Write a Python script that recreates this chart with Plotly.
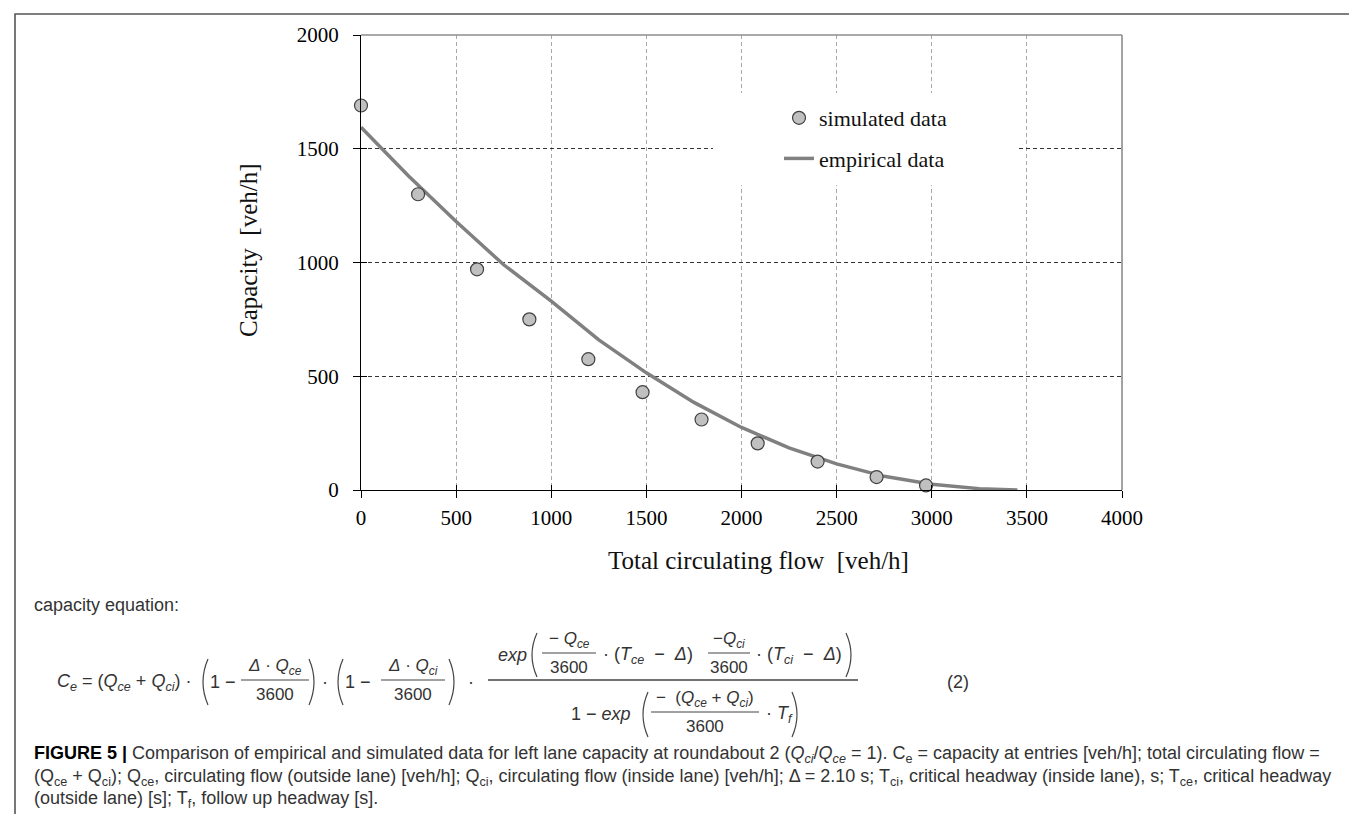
import plotly.graph_objects as go

# ---------------- data ----------------
sim_flow = [0, 300, 610, 885, 1195, 1480, 1790, 2085, 2400, 2710, 2970]
sim_cap = [1690, 1300, 970, 750, 575, 430, 310, 205, 125, 57, 20]
emp_flow = [0, 250, 500, 750, 1000, 1250, 1500, 1750, 2000, 2250, 2500, 2750, 3000, 3250, 3450]
emp_cap = [1595, 1380, 1180, 990, 830, 660, 515, 385, 275, 185, 115, 60, 25, 6, 0]
x_ticks = [0, 500, 1000, 1500, 2000, 2500, 3000, 3500, 4000]
y_ticks = [0, 500, 1000, 1500, 2000]
x_title = "Total circulating flow\u00a0\u00a0[veh/h]"
y_title = "Capacity\u00a0\u00a0[veh/h]"

# ---------------- geometry helpers ----------------
W, H = 1357, 814
PL, PR, PT, PB = 353, 1114, 27, 482


def X(px):
    return (px - PL) / (PR - PL)


def Y(py):
    return (PB - py) / (PB - PT)


SANS = "Liberation Sans"
SERIF = "Liberation Serif"
TXT = "#333333"

fig = go.Figure()
fig.add_trace(go.Scatter(x=emp_flow, y=emp_cap, mode="lines", name="empirical data",
                         line=dict(color="#808080", width=3.5), legendgroup="b", legendrank=2,
                         hoverinfo="skip"))
fig.add_trace(go.Scatter(x=sim_flow, y=sim_cap, mode="markers", name="simulated data",
                         marker=dict(size=13, color="#c0c0c0", line=dict(color="#404040", width=1.2)),
                         legendgroup="a", legendrank=1, cliponaxis=False, hoverinfo="skip"))
# overlay axes carry the inner halves of the crossing tick marks
fig.add_trace(go.Scatter(x=[None], y=[None], xaxis="x2", yaxis="y", showlegend=False, hoverinfo="skip"))
fig.add_trace(go.Scatter(x=[None], y=[None], xaxis="x", yaxis="y2", showlegend=False, hoverinfo="skip"))

tickfont = dict(family=SERIF, size=21, color="black")

annotations = []
shapes = []


def txt(px, py, s, size=18, anchor="left", family=SANS, color=TXT, angle=0):
    annotations.append(dict(x=X(px), y=Y(py), xref="paper", yref="paper", text=s, showarrow=False,
                            xanchor=anchor, yanchor="middle", textangle=angle,
                            font=dict(family=family, size=size, color=color)))


def hline(x0, x1, py, color="#444444", width=1.2):
    shapes.append(dict(type="line", xref="paper", yref="paper", x0=X(x0), x1=X(x1), y0=Y(py), y1=Y(py),
                       line=dict(color=color, width=width), layer="above"))


def paren(px, y0, y1, left=True, depth=5):
    ym = (y0 + y1) / 2
    if left:
        p = f"M {X(px + depth):.5f},{Y(y0):.5f} Q {X(px - depth):.5f},{Y(ym):.5f} {X(px + depth):.5f},{Y(y1):.5f}"
    else:
        p = f"M {X(px - depth):.5f},{Y(y0):.5f} Q {X(px + depth):.5f},{Y(ym):.5f} {X(px - depth):.5f},{Y(y1):.5f}"
    shapes.append(dict(type="path", xref="paper", yref="paper", path=p,
                       line=dict(color="#444444", width=1.2), layer="above"))


def frac(num, den, cx, ybar, half, size=17):
    txt(cx, ybar - 13, num, size=size, anchor="center")
    txt(cx, ybar + 14, den, size=size, anchor="center")
    hline(cx - half, cx + half, ybar)


# ---------------- axis titles ----------------
txt(750, 552, x_title, size=25, anchor="center", family=SERIF, color="#111111")
annotations.append(dict(x=X(240), y=Y(242), xref="paper", yref="paper", text=y_title, showarrow=False,
                        xanchor="center", yanchor="middle", textangle=-90,
                        font=dict(family=SERIF, size=25, color="#111111")))

# ---------------- equation ----------------
txt(24, 597, "capacity equation:", size=18)
ym = 674
txt(47, ym, "<i>C<sub>e</sub></i> = (<i>Q<sub>ce</sub></i> + <i>Q<sub>ci</sub></i>) ·")
paren(195, 651, 697, True)
txt(200, ym, "1 −")
frac("<i>Δ</i> · <i>Q<sub>ce</sub></i>", "3600", 267, 672, 34)
paren(306, 651, 697, False)
txt(317, ym, "·", anchor="center")
paren(330, 651, 697, True)
txt(335, ym, "1 −")
frac("<i>Δ</i> · <i>Q<sub>ci</sub></i>", "3600", 405, 672, 32)
paren(446, 651, 697, False)
txt(463, ym, "·", anchor="center")
hline(480, 850, 672, width=1.3)
# numerator
yn = 647
txt(488, yn, "<i>exp</i>")
paren(524, 625, 669, True)
frac("− <i>Q<sub>ce</sub></i>", "3600", 561, 645, 27)
txt(593, yn, "· (<i>T<sub>ce</sub></i>  −  <i>Δ</i>)")
frac("−<i>Q<sub>ci</sub></i>", "3600", 721, 645, 21)
txt(746, yn, "· (<i>T<sub>ci</sub></i>  −  <i>Δ</i>)")
paren(843, 625, 669, False)
# denominator
yd = 706
txt(625, yd, "1 − <i>exp</i>", anchor="right")
paren(635, 684, 729, True)
frac("−  (<i>Q<sub>ce</sub></i> + <i>Q<sub>ci</sub></i>)", "3600", 697, 704, 54)
txt(756, yd, "· <i>T<sub>f</sub></i>")
paren(789, 684, 729, False)
txt(950, ym, "(2)", anchor="center")

# ---------------- caption ----------------
cap1 = ("<span style='color:#000000'><b>FIGURE 5 |</b></span> Comparison of empirical and simulated data for left lane "
        "capacity at roundabout 2 (<i>Q<sub>ci</sub></i>/<i>Q<sub>ce</sub></i> = 1). C<sub>e</sub> = capacity at "
        "entries [veh/h]; total circulating flow =")
cap2 = ("(Q<sub>ce</sub> + Q<sub>ci</sub>); Q<sub>ce</sub>, circulating flow (outside lane) [veh/h]; "
        "Q<sub>ci</sub>, circulating flow (inside lane) [veh/h]; Δ = 2.10 s; T<sub>ci</sub>, critical headway "
        "(inside lane), s; T<sub>ce</sub>, critical headway")
cap3 = "(outside lane) [s]; T<sub>f</sub>, follow up headway [s]."
txt(24, 746, cap1, size=18)
txt(24, 769, cap2, size=18)
txt(24, 791, cap3, size=18)

# ---------------- frame / legend backdrop ----------------
shapes.append(dict(type="rect", xref="paper", yref="paper", x0=X(7), x1=X(1351), y0=Y(6), y1=Y(860),
                   line=dict(color="#555555", width=1.6), fillcolor="rgba(0,0,0,0)", layer="above"))
shapes.append(dict(type="rect", xref="paper", yref="paper", x0=X(705), x1=X(1011), y0=Y(85), y1=Y(177),
                   line=dict(width=0), fillcolor="white", layer="above"))
shapes.append(dict(type="line", xref="paper", yref="paper", x0=0, x1=1, y0=1, y1=1,
                   line=dict(color="#8c8c8c", width=1.6), layer="above"))
shapes.append(dict(type="line", xref="paper", yref="paper", x0=1, x1=1, y0=0, y1=1,
                   line=dict(color="#8c8c8c", width=1.6), layer="above"))

fig.update_layout(
    width=W, height=H,
    margin=dict(l=PL, r=W - PR, t=PT, b=H - PB, pad=0),
    paper_bgcolor="white", plot_bgcolor="white",
    showlegend=True,
    legend=dict(x=X(771), y=Y(89), xanchor="left", yanchor="top", bgcolor="rgba(0,0,0,0)",
                font=dict(family=SERIF, size=22, color="#111111"), traceorder="grouped",
                tracegroupgap=9, borderwidth=0),
    xaxis=dict(range=[0, 4000], tickvals=x_ticks, ticktext=[str(v) for v in x_ticks],
               ticks="outside", ticklen=7, tickwidth=1.2, tickcolor="black",
               showline=True, linecolor="black", linewidth=1.3,
               showgrid=True, gridcolor="#a8a8a8", griddash="4px,3px", gridwidth=1,
               zeroline=False, tickfont=tickfont, ticklabelstandoff=2),
    yaxis=dict(range=[0, 2000], tickvals=y_ticks, ticktext=[str(v) for v in y_ticks],
               ticks="outside", ticklen=7, tickwidth=1.2, tickcolor="black",
               showline=True, linecolor="black", linewidth=1.3,
               showgrid=True, gridcolor="#333333", griddash="4px,3px", gridwidth=1,
               zeroline=False, tickfont=tickfont, ticklabelstandoff=10),
    xaxis2=dict(overlaying="x", anchor="y", side="bottom", range=[0, 4000], tickvals=x_ticks,
                ticks="inside", ticklen=5, tickwidth=1.2, tickcolor="black", showticklabels=False,
                showgrid=False, zeroline=False, showline=False),
    yaxis2=dict(overlaying="y", anchor="x", side="left", range=[0, 2000], tickvals=y_ticks,
                ticks="inside", ticklen=6, tickwidth=1.2, tickcolor="black", showticklabels=False,
                showgrid=False, zeroline=False, showline=False),
    annotations=annotations,
    shapes=shapes,
)

fig.write_html("out.html")
